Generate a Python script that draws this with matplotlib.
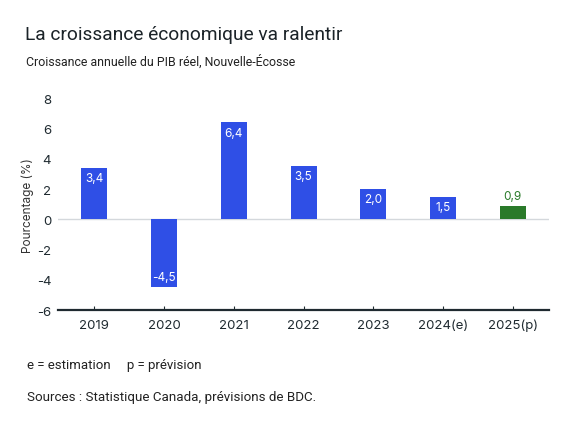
import matplotlib.pyplot as plt

# data
years = ['2019', '2020', '2021', '2022', '2023', '2024(e)', '2025(p)']
growth = [3.4, -4.5, 6.4, 3.5, 2.0, 1.5, 0.9]
is_forecast = [False, False, False, False, False, False, True]
y_ticks = [-6, -4, -2, 0, 2, 4, 6, 8]

blue = '#2f4fe6'
green = '#2a7a2a'
dark = '#1f2a30'

plt.rcParams['font.family'] = ['Roboto', 'DejaVu Sans']
num_font = ['Inter', 'DejaVu Sans']

fig = plt.figure(figsize=(5.75, 4.31), dpi=100)
ax = fig.add_axes([0.101, 0.278, 0.854, 0.492])

x = range(len(years))
colors = [green if f else blue for f in is_forecast]
bars = ax.bar(x, growth, width=0.37, color=colors, zorder=3)

for i, (b, v) in enumerate(zip(bars, growth)):
    label = '{:.1f}'.format(v).replace('.', ',')
    cx = b.get_x() + b.get_width() / 2
    if is_forecast[i]:
        ax.annotate(label, (cx, v), xytext=(0, 3), textcoords='offset points',
                    ha='center', va='bottom', color=green, fontsize=8.5,
                    family=num_font)
    elif v >= 0:
        ax.annotate(label, (cx, v), xytext=(0, -3), textcoords='offset points',
                    ha='center', va='top', color='white', fontsize=8.5,
                    family=num_font)
    else:
        ax.annotate(label, (cx, v), xytext=(0, 3), textcoords='offset points',
                    ha='center', va='bottom', color='white', fontsize=8.5,
                    family=num_font)

ax.axhline(0, color='#d4d8dc', linewidth=1, zorder=2)
ax.set_xlim(-0.52, len(years) - 0.48)
ax.set_ylim(-6, 8)
ax.set_yticks(y_ticks)
ax.set_yticklabels([str(t) for t in y_ticks], family=num_font)
ax.set_xticks(list(x))
ax.set_xticklabels(years, family=num_font)

for s in ['top', 'right', 'left']:
    ax.spines[s].set_visible(False)
ax.spines['bottom'].set_color(dark)
ax.spines['bottom'].set_linewidth(1.6)
ax.tick_params(axis='y', length=0, labelsize=9.5, labelcolor=dark, pad=5)
ax.tick_params(axis='x', direction='in', length=3, width=0.8, color=dark,
               labelsize=9.5, labelcolor=dark, pad=6)
ax.set_ylabel('Pourcentage (%)', fontsize=8.5, color='#333333', labelpad=2,
              family=num_font)

fig.text(0.043, 0.919, 'La croissance économique va ralentir', fontsize=13.8,
         color='#1b2328', va='center', ha='left')
fig.text(0.045, 0.858, 'Croissance annuelle du PIB réel, Nouvelle-Écosse',
         fontsize=8.9, color='#222222', va='center', ha='left')
fig.text(0.047, 0.151, 'e = estimation     p = prévision', fontsize=9.5,
         color='#222222', va='center', ha='left')
fig.text(0.047, 0.077, 'Sources : Statistique Canada, prévisions de BDC.',
         fontsize=9.6, color='#222222', va='center', ha='left')

fig.savefig('out.png', dpi=100)
